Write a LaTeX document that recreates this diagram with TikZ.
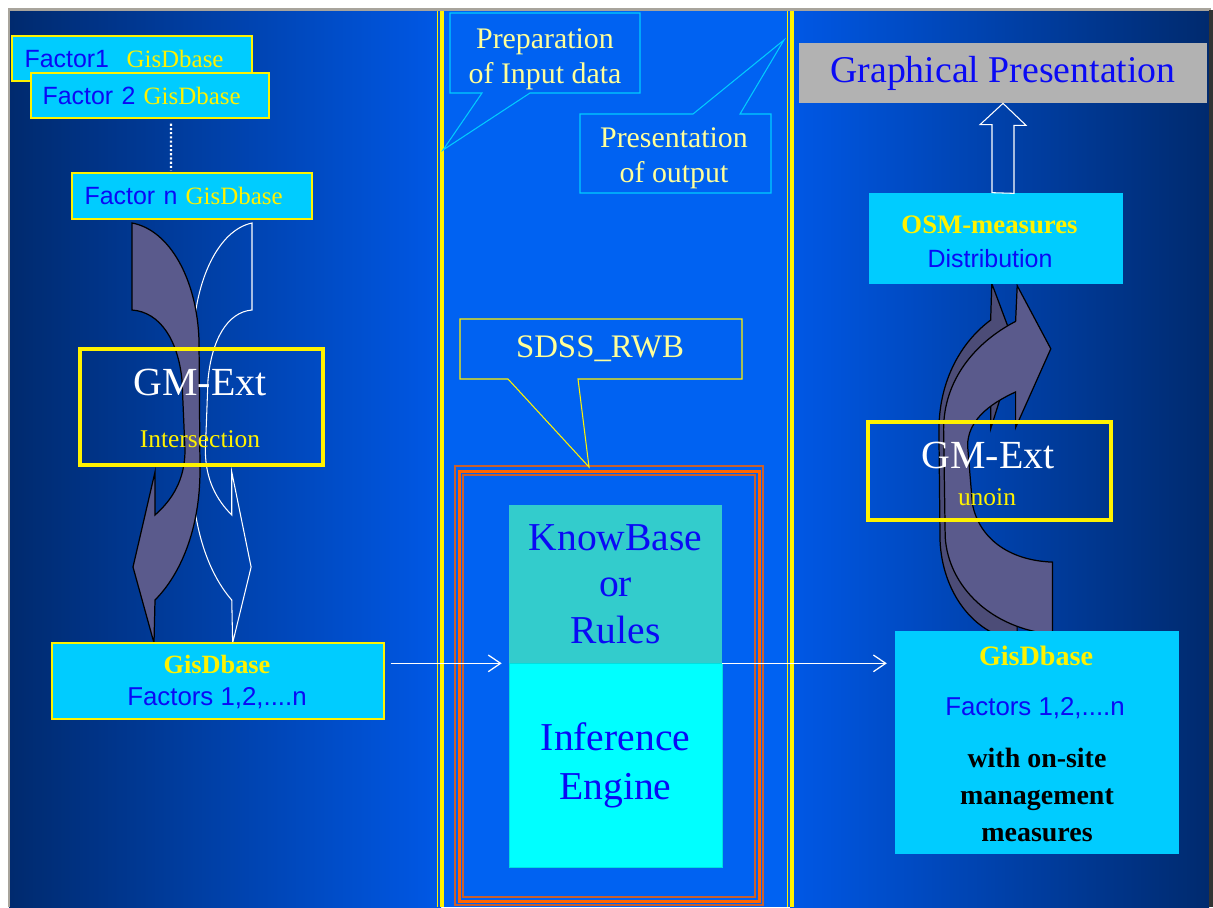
\documentclass[tikz,border=0pt]{standalone}
\usepackage{fontspec}
\setmainfont{Liberation Serif}
\setsansfont{Liberation Sans}
\usetikzlibrary{arrows.meta}

\definecolor{navy}{HTML}{002A6E}
\definecolor{lightblue}{HTML}{0058E6}
\definecolor{midblue}{HTML}{0062F2}
\definecolor{cyanbox}{HTML}{00CCFF}
\definecolor{kbcol}{HTML}{33CCCC}
\definecolor{iecol}{HTML}{00FFFF}
\definecolor{txtblue}{HTML}{0A0AF5}
\definecolor{paleyel}{HTML}{FFFF99}
\definecolor{bandcol}{HTML}{5A5A8C}
\definecolor{greybox}{HTML}{B2B2B2}
\definecolor{frameor}{HTML}{FF6600}
\definecolor{framebr}{HTML}{C8602E}
\definecolor{edgegrey}{HTML}{A8A49C}

\begin{document}
\begin{tikzpicture}[
        x=0.02cm, y=-0.02cm,
        factor/.style={rectangle, draw=yellow, line width=0.8pt, fill=cyanbox, minimum width=4.8cm, minimum height=0.9cm, inner sep=0pt, text width=4.3cm, align=left, font=\fontsize{14.2}{17}\selectfont},
        panel/.style={rectangle, fill=cyanbox, inner sep=0pt},
        gmbox/.style={rectangle, draw=yellow, line width=2.3pt, minimum width=4.86cm, inner sep=0pt},
        rulebox/.style={rectangle, inner sep=0pt, minimum width=4.26cm, align=center, text=txtblue, font=\fontsize{22.5}{26.6}\selectfont},
        bubble/.style={align=center, inner sep=0pt, text=paleyel, font=\fontsize{17}{19.8}\selectfont},
        tail/.style={line width=0.6pt},
        band/.style={fill=bandcol, draw=black, line width=0.7pt},
        hollow/.style={draw=white, line width=0.6pt},
        flow/.style={->, draw=white, line width=0.7pt},
        >={Straight Barb[length=7pt, width=9.5pt]},
        gmname/.style={anchor=base, inner sep=0pt, text=white, font=\fontsize{22.7}{26}\selectfont},
        gmop/.style={anchor=base, inner sep=0pt, text=yellow, font=\fontsize{14.5}{17}\selectfont},
        dbname/.style={anchor=base, inner sep=0pt, text=yellow, font=\fontsize{15}{18}\selectfont\bfseries},
        factors/.style={anchor=base, inner sep=0pt, text=txtblue, font=\sffamily\fontsize{14.7}{17}\selectfont}
    ]

        \useasboundingbox (0,0) rectangle (1213,907);

        % slide background
        \fill[white] (0,0) rectangle (1213,907);
        \shade[left color=navy, right color=lightblue] (9,11) rectangle (441,907);
        \fill[midblue] (441,11) rectangle (790,907);
        \shade[left color=lightblue, right color=navy] (790,11) rectangle (1209,907);
        \draw[edgegrey, line width=1.7pt] (9,907) -- (9,9.5) -- (1211,9.5);
        \fill[black!80] (1209,10) rectangle (1213,907);

        % column separators
        \draw[yellow, line width=0.5pt] (437.5,11) -- (437.5,907);
        \draw[yellow, line width=2.3pt] (442,11) -- (442,907);
        \draw[yellow, line width=0.5pt] (787,11) -- (787,907);
        \draw[yellow, line width=2.3pt] (792,11) -- (792,907);

        % SDSS frame
        \draw[framebr, line width=0.6pt] (455,466) rectangle (763,905);
        \draw[frameor, line width=1.7pt] (459.5,471) rectangle (759.5,901);
        \draw[framebr, line width=0.6pt] (463,475) rectangle (755,897);

        % callouts
        \draw[cyanbox, tail] (450,13) -- (640,13) -- (640,93) -- (530,93) -- (443,150) -- (482,93) -- (450,93) -- cycle;
        \node[bubble] (prep) at (545,59) {Preparation\\of Input data};
        \draw[cyanbox, tail] (580,114) -- (693,114) -- (784,40) -- (740,114) -- (771,114) -- (771,193) -- (580,193) -- cycle;
        \node[bubble] (pres) at (674,158) {Presentation\\of output};
        \draw[yellow, tail] (460,319) -- (742,319) -- (742,379) -- (578,379) -- (589,467) -- (508,379) -- (460,379) -- cycle;
        \node[bubble, anchor=base, font=\fontsize{18.7}{22}\selectfont] (sdss) at (600,357) {SDSS\_RWB};

        % left bent arrows
        \begin{scope}[shift={(252,0)}, xscale=-0.88, shift={(-132,0)}]
            \draw[hollow] (132,223) .. controls (170,230) and (197,280) .. (199,340) -- (200,470)
                .. controls (200,530) and (180,575) .. (155,600) -- (154,643) -- (133,567) -- (155,472) -- (155,515)
                .. controls (172,500) and (185,480) .. (185,450) -- (182,380)
                .. controls (178,340) and (160,312) .. (132,310) -- cycle;
        \end{scope}
        \draw[band] (132,223) .. controls (170,230) and (197,280) .. (199,340) -- (200,470)
            .. controls (200,530) and (180,575) .. (155,600) -- (154,643) -- (133,567) -- (155,472) -- (155,515)
            .. controls (172,500) and (185,480) .. (185,450) -- (182,380)
            .. controls (178,340) and (160,312) .. (132,310) -- cycle;

        % right bent arrows
        \begin{scope}[shift={(978,462)}, xscale=-1.15, yscale=-0.85, shift={(-166,-433)}]
            \draw[band, fill=bandcol!85!black] (132,223) .. controls (170,230) and (197,280) .. (199,340) -- (200,470)
                .. controls (200,530) and (180,575) .. (155,600) -- (154,643) -- (133,567) -- (155,472) -- (155,515)
                .. controls (172,500) and (185,480) .. (185,450) -- (182,380)
                .. controls (178,340) and (160,312) .. (132,310) -- cycle;
        \end{scope}
        \begin{scope}[shift={(998,460)}, xscale=-1.6, yscale=-0.83, shift={(-166,-433)}]
            \draw[band] (132,223) .. controls (170,230) and (197,280) .. (199,340) -- (200,470)
                .. controls (200,530) and (180,575) .. (155,600) -- (154,643) -- (133,567) -- (155,472) -- (155,515)
                .. controls (172,500) and (185,480) .. (185,450) -- (182,380)
                .. controls (178,340) and (160,312) .. (132,310) -- cycle;
        \end{scope}

        % left column
        \node[factor] (f1) at (132,58.5) {{\sffamily\color{txtblue}Factor1}\hspace{0.7em}{\color{yellow}GisDbase}};
        \node[factor, minimum width=4.76cm] (f2) at (150,95.5) {{\sffamily\color{txtblue}Factor 2} {\color{yellow}GisDbase}};
        \node[factor, minimum height=0.92cm] (fn) at (192,196) {{\sffamily\color{txtblue}Factor n} {\color{yellow}GisDbase}};
        \draw[white, line width=1.2pt, dash pattern=on 1.2pt off 1.2pt] ([xshift=0.42cm, yshift=-0.1cm]f2.south) -- ([xshift=-0.42cm, yshift=0.04cm]fn.north);

        \node[gmbox, minimum height=2.32cm] (gmL) at (201.5,407) {};
        \node[gmname] (gmL_name) at (200,395) {GM-Ext};
        \node[gmop] (gmL_op) at (200,447) {Intersection};

        \node[panel, draw=yellow, line width=0.8pt, minimum width=6.64cm, minimum height=1.52cm] (gisL) at (218,681) {};
        \node[dbname] (gisL_title) at (217,673) {GisDbase};
        \node[factors] (gisL_list) at (217,705) {Factors 1,2,....n};

        % middle column
        \node[rulebox, fill=kbcol, minimum height=3.16cm] (kb) at (615.5,584) {KnowBase\\or\\Rules};
        \node[rulebox, fill=iecol, draw=iecol!75!teal, line width=0.5pt, minimum height=4.08cm, font=\fontsize{22.5}{27.8}\selectfont] (ie) at (615.5,765) {Inference\\Engine};

        % right column
        \node[rectangle, fill=greybox, inner sep=0pt, minimum width=8.16cm, minimum height=1.2cm, text=txtblue, font=\fontsize{21.5}{25}\selectfont] (graph) at (1003,73) {Graphical Presentation};

        \node[panel, minimum width=5.08cm, minimum height=1.82cm] (osm) at (996,238.5) {};
        \node[dbname, font=\fontsize{15.2}{18}\selectfont\bfseries] (osm_title) at (989.5,233) {OSM-measures};
        \node[factors, font=\sffamily\fontsize{14.2}{17}\selectfont] (osm_dist) at (990,267) {Distribution};

        \draw[hollow] (graph.south |- osm.north) ++(-11,0) -- ++(0,-68) -- ++(-12,0) -- (graph.south) -- ++(23,22) -- ++(-12,0) -- ++(0,68) -- cycle;

        \node[gmbox, minimum height=1.96cm] (gmR) at (989.5,471) {};
        \node[gmname] (gmR_name) at (988,468) {GM-Ext};
        \node[gmop] (gmR_op) at (987,505) {unoin};

        \node[panel, minimum width=5.68cm, minimum height=4.46cm] (gisR) at (1037,742.5) {};
        \node[dbname, font=\fontsize{16}{19}\selectfont\bfseries] (gisR_title) at (1036,665) {GisDbase};
        \node[factors] (gisR_list) at (1035,715) {Factors 1,2,....n};
        \node[anchor=north, inner sep=0pt, align=center, font=\fontsize{15.9}{21}\selectfont\bfseries] (gisR_note) at (1037,748) {with on-site\\management\\measures};

        % data flow
        \draw[flow, shorten <=3.4pt, shorten >=4pt] (gisL.east |- kb.south west) -- (kb.south west);
        \draw[flow, shorten >=4.5pt] (kb.south east) -- (gisR.west |- kb.south east);

    \end{tikzpicture}
\end{document}
